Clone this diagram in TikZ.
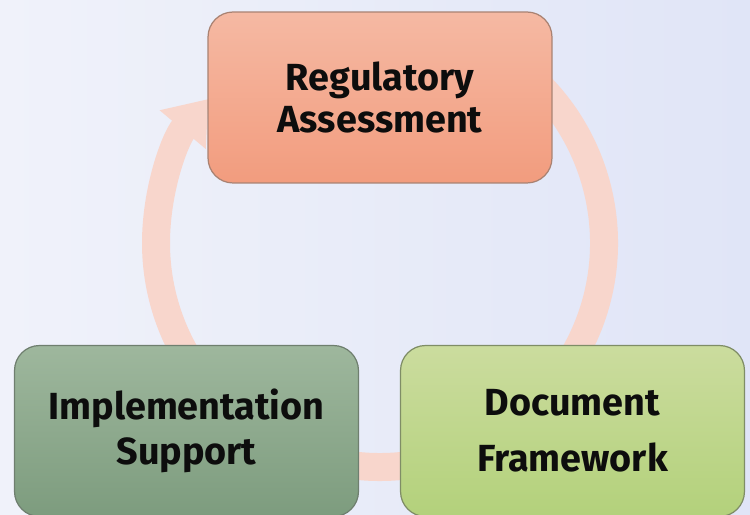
\documentclass[tikz,border=0pt]{standalone}
\usepackage{fontspec}
\setsansfont{Fira Sans}
\usetikzlibrary{arrows.meta,positioning}

\definecolor{bgleft}{HTML}{F0F2FA}
\definecolor{bgright}{HTML}{E0E5F7}
\definecolor{ringcol}{HTML}{F8D6CC}
\definecolor{regtop}{HTML}{F5B9A3}
\definecolor{regbot}{HTML}{F29C7E}
\definecolor{regline}{HTML}{A98272}
\definecolor{imptop}{HTML}{9EB79D}
\definecolor{impbot}{HTML}{7D9C7E}
\definecolor{impline}{HTML}{6F7F6F}
\definecolor{doctop}{HTML}{CBDC9E}
\definecolor{docbot}{HTML}{B3D17B}
\definecolor{docline}{HTML}{7F8D66}

\begin{document}
\begin{tikzpicture}[
              x=0.02cm, y=0.02cm,
              stage/.style={rectangle, rounded corners=0.5cm, align=center,
                minimum width=6.88cm, minimum height=3.42cm, line width=0.7pt,
                text=black!95, font=\sffamily\bfseries\fontsize{21.5}{24}\selectfont},
              ring/.style={draw=ringcol, line width=0.56cm,
                -{Triangle[length=0.8cm, width=1.15cm]}}
            ]

            % background
            \shade[left color=bgleft, right color=bgright] (0,0) rectangle (750,514);
            \useasboundingbox (0,0) rectangle (750,514);

            % cycle ring behind the boxes (starts hidden under the top box)
            \coordinate (ringstart) at (492,465);
            \draw[ring] (ringstart) arc[start angle=60, end angle=-220, radius=224];

            % the three stages
            \node[stage, draw=regline, top color=regtop, bottom color=regbot] (reg) at (380,416.5)
              {Regulatory\\Assessment};
            \node[stage, draw=impline, top color=imptop, bottom color=impbot] (imp) at (186.5,83)
              {Implementation\\[1.7pt]Support};
            \node[stage, draw=docline, top color=doctop, bottom color=docbot] (doc) at (572.5,83)
              {Document\\[8pt]Framework};

\end{tikzpicture}
\end{document}
